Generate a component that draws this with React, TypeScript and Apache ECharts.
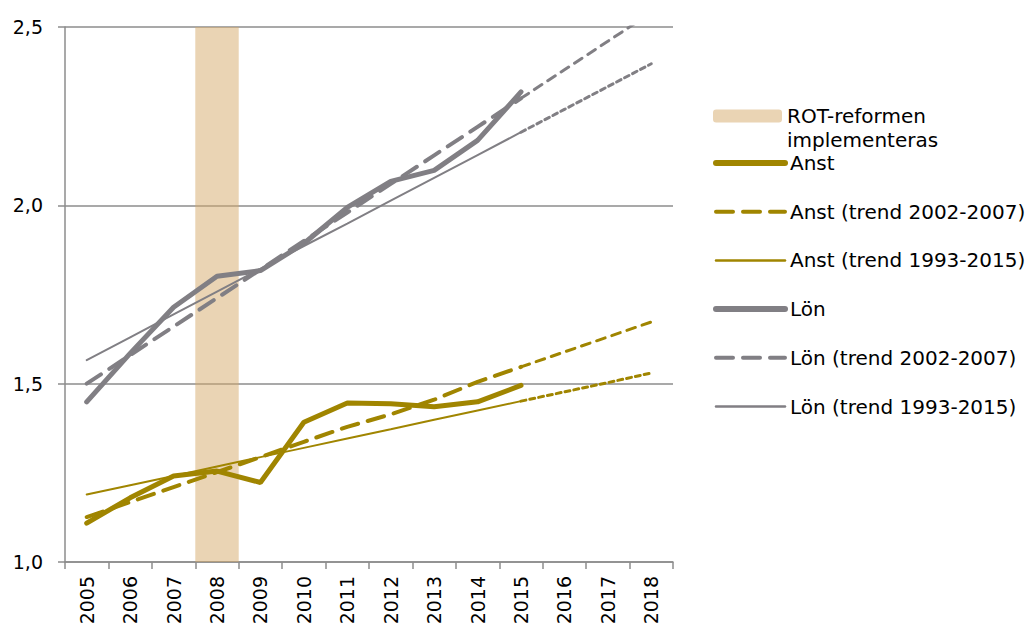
import React, { useEffect, useRef } from "react";
import * as echarts from "echarts";

const years = ["2005", "2006", "2007", "2008", "2009", "2010", "2011", "2012", "2013", "2014", "2015", "2016", "2017", "2018"];
const yTicks = [1.0, 1.5, 2.0, 2.5];

const rotBand = [null, null, null, 2.5, null, null, null, null, null, null, null, null, null, null];

const anst = [1.109, 1.18, 1.241, 1.255, 1.223, 1.392, 1.446, 1.444, 1.435, 1.449, 1.495, null, null, null];
const anstTrend0207 = [1.126, 1.168, 1.21, 1.252, 1.294, 1.337, 1.379, 1.414, 1.455, 1.505, 1.547, null, null, null];
const anstTrend0207Proj = [null, null, null, null, null, null, null, null, null, null, 1.547, 1.589, 1.631, 1.673];
const anstTrend9315 = [1.189, 1.215, 1.241, 1.268, 1.294, 1.32, 1.346, 1.372, 1.399, 1.425, 1.451, null, null, null];
const anstTrend9315Proj = [null, null, null, null, null, null, null, null, null, null, 1.451, 1.477, 1.503, 1.53];

const lon = [1.449, 1.585, 1.714, 1.801, 1.817, 1.893, 1.994, 2.067, 2.098, 2.182, 2.318, null, null, null];
const lonTrend0207 = [1.5, 1.58, 1.66, 1.74, 1.82, 1.9, 1.98, 2.06, 2.14, 2.22, 2.3, null, null, null];
const lonTrend0207Proj = [null, null, null, null, null, null, null, null, null, null, 2.3, 2.38, 2.46, 2.54];
const lonTrend9315 = [1.566, 1.63, 1.694, 1.758, 1.822, 1.886, 1.949, 2.013, 2.077, 2.141, 2.205, null, null, null];
const lonTrend9315Proj = [null, null, null, null, null, null, null, null, null, null, 2.205, 2.269, 2.333, 2.397];

const GOLD = "#a08500";
const GRAY = "#817f84";
const AXIS = "#8c8c8c";
const FONT = "DejaVu Sans";

export default function App() {
  const ref = useRef<HTMLDivElement>(null);
  useEffect(() => {
    document.body.style.margin = "0";
    const chart = echarts.init(ref.current!, null, { renderer: "svg" });
    const line = (name: string, data: any[], color: string, width: number, type: any) => ({
      name,
      type: "line",
      data,
      symbol: "none",
      connectNulls: false,
      lineStyle: { color, width, type, cap: "round" },
      itemStyle: { color },
    });
    const legendItem = (name: string, width: number, type: any) => ({
      name,
      lineStyle: { width, type, cap: "round" },
    });
    chart.setOption({
      animation: false,
      textStyle: { fontFamily: FONT },
      grid: { left: 65, right: 353, top: 27, bottom: 66 },
      legend: [
        {
          data: ["ROT-reformen implementeras"],
          orient: "vertical",
          left: 713,
          top: 80,
          padding: 0,
          itemWidth: 69,
          itemHeight: 13,
          formatter: () => "\nROT-reformen\nimplementeras",
          textStyle: { fontFamily: FONT, fontSize: 20, color: "#000", lineHeight: 24 },
        },
        {
          data: [
            legendItem("Anst", 6, "solid"),
            legendItem("Anst (trend 2002-2007)", 4, [17, 10]),
            legendItem("Anst (trend 1993-2015)", 2.5, "solid"),
            legendItem("Lön", 6, "solid"),
            legendItem("Lön (trend 2002-2007)", 4, [17, 10]),
            legendItem("Lön (trend 1993-2015)", 2.5, "solid"),
          ],
          orient: "vertical",
          left: 713,
          top: 151,
          padding: 0,
          itemGap: 24.7,
          itemWidth: 69,
          itemHeight: 14,
          itemStyle: { opacity: 0 },
          textStyle: { fontFamily: FONT, fontSize: 20, color: "#000", lineHeight: 24 },
        },
      ],
      xAxis: {
        type: "category",
        data: years,
        boundaryGap: true,
        axisLine: { lineStyle: { color: AXIS, width: 1.5 } },
        axisTick: { show: true, length: 7, lineStyle: { color: AXIS, width: 1.5 } },
        axisLabel: { rotate: 90, interval: 0, fontSize: 19, color: "#000", margin: 14, fontFamily: FONT },
      },
      yAxis: {
        type: "value",
        min: yTicks[0],
        max: yTicks[yTicks.length - 1],
        interval: 0.5,
        axisLine: { show: true, lineStyle: { color: AXIS, width: 1.5 } },
        axisTick: { show: true, length: 7, lineStyle: { color: AXIS, width: 1.5 } },
        splitLine: { lineStyle: { color: AXIS, width: 1.5 } },
        axisLabel: {
          fontSize: 19,
          color: "#000",
          margin: 22,
          fontFamily: FONT,
          formatter: (v: number) => v.toFixed(1).replace(".", ","),
        },
      },
      series: [
        {
          name: "ROT-reformen implementeras",
          type: "bar",
          data: rotBand,
          barWidth: "100%",
          itemStyle: { color: "rgba(214,170,106,0.5)" },
        },
        line("Anst", anst, GOLD, 5, "solid"),
        line("Anst (trend 2002-2007)", anstTrend0207, GOLD, 4, [17, 10]),
        line("Anst (trend 2002-2007) forts.", anstTrend0207Proj, GOLD, 3, [9, 7]),
        line("Anst (trend 1993-2015)", anstTrend9315, GOLD, 2, "solid"),
        line("Anst (trend 1993-2015) forts.", anstTrend9315Proj, GOLD, 3, [5, 4]),
        line("Lön", lon, GRAY, 5, "solid"),
        line("Lön (trend 2002-2007)", lonTrend0207, GRAY, 4, [17, 10]),
        line("Lön (trend 2002-2007) forts.", lonTrend0207Proj, GRAY, 3, [9, 7]),
        line("Lön (trend 1993-2015)", lonTrend9315, GRAY, 2, "solid"),
        line("Lön (trend 1993-2015) forts.", lonTrend9315Proj, GRAY, 3, [5, 4]),
      ],
    });
    return () => chart.dispose();
  }, []);
  return <div ref={ref} style={{ width: 1026, height: 628 }} />;
}
